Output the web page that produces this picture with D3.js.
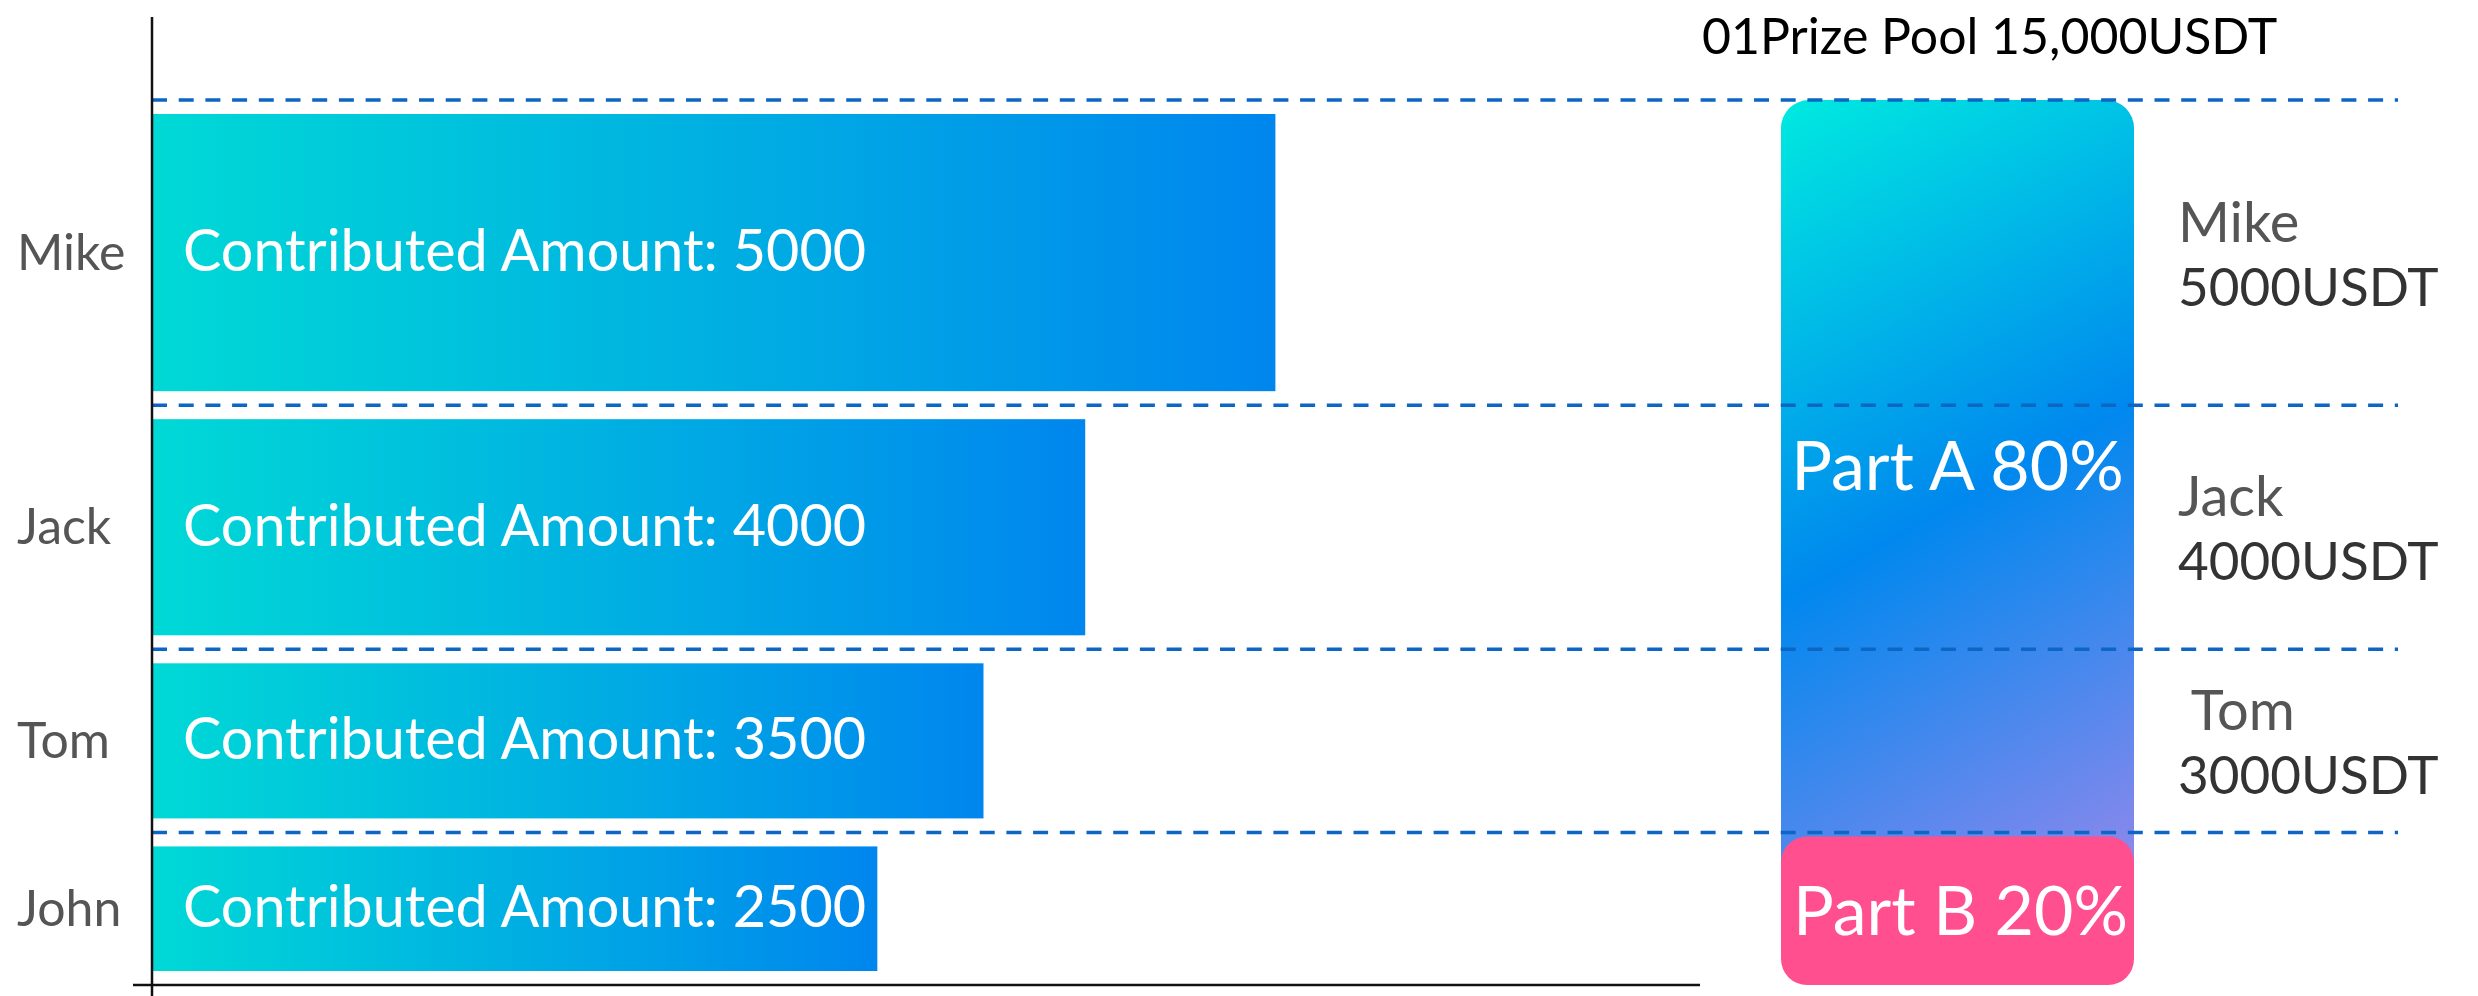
<!DOCTYPE html>
<html>
<head>
<meta charset="utf-8">
<script src="https://cdn.jsdelivr.net/npm/d3@7/dist/d3.min.js"></script>
<style>
    body { margin: 0; background: #fff; }
    text { font-family: Lato, "Open Sans", sans-serif; }
</style>
</head>
<body>
<svg id="svg" width="2478" height="996"></svg>
<script>
var names = ['Mike', 'Jack', 'Tom', 'John'];
var contributed = [5000, 4000, 3500, 2500];
var barLength = [5080, 4220, 3760, 3280];
var rowWeight = [5000, 4000, 3000, 2500];
var prizeNames = ['Mike', 'Jack', ' Tom'];
var prizeValues = [5000, 4000, 3000];
var partLabels = ['Part A', 'Part B'];
var partShares = [80, 20];
var poolTotal = 15000;
var poolTitle = '01Prize Pool 15,000USDT';

function draw() {
    var svg = d3.select('#svg');
    var ends = Array.from(d3.cumsum(rowWeight));
    var starts = ends.map((e, i) => e - rowWeight[i]);

    var scY = d3.scaleLinear().domain([0, d3.sum(rowWeight)]).range([100, 985]);
    var scX = d3.scaleLinear().domain([0, 7000]).range([152, 1700]);

    var boxX = 1781, boxW = 353;
    var splitY = scY(poolTotal * partShares[0] / 100);

    var defs = svg.append('defs');
    var gBar = defs.append('linearGradient').attr('id', 'barGrad')
        .attr('x1', 0).attr('y1', 0).attr('x2', 1).attr('y2', 0);
    gBar.append('stop').attr('offset', 0).attr('stop-color', '#00d9d6');
    gBar.append('stop').attr('offset', 1).attr('stop-color', '#0086ee');

    // tilted gradient for the pool box
    var gPart = defs.append('linearGradient').attr('id', 'partGrad')
        .attr('gradientUnits', 'userSpaceOnUse')
        .attr('x1', boxX).attr('y1', scY(0))
        .attr('x2', boxX + 412).attr('y2', scY(0) + 730);
    gPart.append('stop').attr('offset', 0).attr('stop-color', '#00eae0');
    gPart.append('stop').attr('offset', 0.52).attr('stop-color', '#0088ee');
    gPart.append('stop').attr('offset', 1).attr('stop-color', '#8c88ec');

    var rows = names.map((n, i) => ({
        name: n, amount: contributed[i], len: barLength[i], y0: starts[i], y1: ends[i]
    }));

    // left bars
    svg.append('g').selectAll('rect').data(rows).enter().append('rect')
        .attr('x', scX(0))
        .attr('y', d => scY(d.y0) + 14)
        .attr('width', d => scX(d.len) - scX(0))
        .attr('height', d => scY(d.y1) - scY(d.y0) - 28)
        .attr('fill', 'url(#barGrad)');

    svg.append('g').selectAll('text').data(rows).enter().append('text')
        .attr('x', 183)
        .attr('y', d => (scY(d.y0) + scY(d.y1)) / 2)
        .attr('dy', '0.32em')
        .attr('fill', '#fff')
        .attr('font-size', 57.5)
        .text(d => 'Contributed Amount: ' + d.amount);

    svg.append('g').selectAll('text').data(rows).enter().append('text')
        .attr('x', 17)
        .attr('y', d => (scY(d.y0) + scY(d.y1)) / 2)
        .attr('dy', '0.34em')
        .attr('fill', '#555')
        .attr('font-size', 50)
        .text(d => d.name);

    // prize pool boxes
    svg.append('rect')
        .attr('x', boxX).attr('y', scY(0))
        .attr('width', boxW).attr('height', splitY + 70 - scY(0))
        .attr('rx', 28)
        .attr('fill', 'url(#partGrad)');
    svg.append('rect')
        .attr('x', boxX).attr('y', splitY + 4)
        .attr('width', boxW).attr('height', scY(d3.sum(rowWeight)) - splitY - 4)
        .attr('rx', 26)
        .attr('fill', '#ff4f8f');

    // dashed separators
    svg.append('g').selectAll('line').data(starts).enter().append('line')
        .attr('x1', scX(0)).attr('x2', 2398)
        .attr('y1', d => scY(d)).attr('y2', d => scY(d))
        .attr('stroke', '#0d66c4')
        .attr('stroke-width', 3.5)
        .attr('stroke-dasharray', '15,11.7');

    svg.append('text')
        .attr('x', boxX + boxW / 2)
        .attr('y', (scY(0) + splitY) / 2)
        .attr('dy', '0.35em')
        .attr('text-anchor', 'middle')
        .attr('fill', '#fff').attr('font-size', 68)
        .text(partLabels[0] + ' ' + partShares[0] + '%');
    svg.append('text')
        .attr('x', boxX + boxW / 2 + 3)
        .attr('y', (splitY + 4 + scY(d3.sum(rowWeight))) / 2)
        .attr('dy', '0.35em')
        .attr('text-anchor', 'middle')
        .attr('fill', '#fff').attr('font-size', 68)
        .text(partLabels[1] + ' ' + partShares[1] + '%');

    // right labels
    var prizes = prizeNames.map((n, i) => ({ name: n, val: prizeValues[i], c: (scY(starts[i]) + scY(ends[i])) / 2 }));
    var gl = svg.append('g').selectAll('g').data(prizes).enter().append('g');
    gl.append('text')
        .attr('x', 2178).attr('y', d => d.c - 11)
        .style('white-space', 'pre')
        .attr('fill', '#555').attr('font-size', 56)
        .text(d => d.name);
    gl.append('text')
        .attr('x', 2178).attr('y', d => d.c + 53)
        .attr('fill', '#333').attr('font-size', 53)
        .text(d => d.val + 'USDT');

    svg.append('text')
        .attr('x', 1702).attr('y', 54)
        .attr('fill', '#000').attr('font-size', 50)
        .text(poolTitle);

    // axes
    svg.append('line')
        .attr('x1', scX(0)).attr('x2', scX(0))
        .attr('y1', 17).attr('y2', 996)
        .attr('stroke', '#111').attr('stroke-width', 2.5);
    svg.append('line')
        .attr('x1', 133).attr('x2', scX(7000))
        .attr('y1', scY(d3.sum(rowWeight))).attr('y2', scY(d3.sum(rowWeight)))
        .attr('stroke', '#111').attr('stroke-width', 2.5);
}

draw();
</script>
</body>
</html>
